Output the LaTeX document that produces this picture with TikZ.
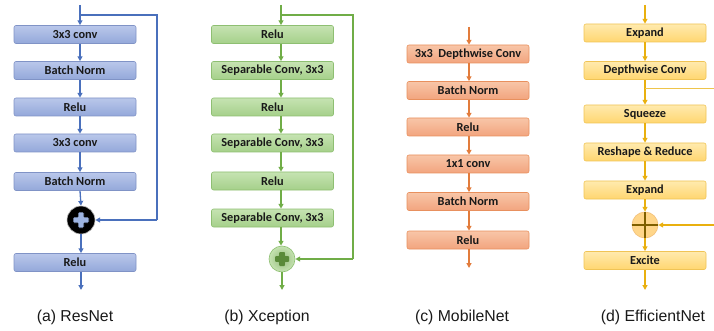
\documentclass[tikz,border=0pt]{standalone}
\usepackage{fontspec}
\setmainfont{Carlito}
\newfontfamily\capfont{Liberation Sans}
\usetikzlibrary{arrows.meta}
\definecolor{rline}{HTML}{4A70BC}
\definecolor{rtop}{HTML}{B9C7EA}
\definecolor{rbot}{HTML}{94A8DA}
\definecolor{rdraw}{HTML}{8093C6}
\definecolor{gline}{HTML}{70AD47}
\definecolor{gtop}{HTML}{C6E3B2}
\definecolor{gbot}{HTML}{A5D08A}
\definecolor{gdraw}{HTML}{8EBF72}
\definecolor{oline}{HTML}{E27C3C}
\definecolor{otop}{HTML}{F8C6A8}
\definecolor{obot}{HTML}{F2A47E}
\definecolor{odraw}{HTML}{E8905E}
\definecolor{yline}{HTML}{E9B00F}
\definecolor{ytop}{HTML}{FFEAAE}
\definecolor{ybot}{HTML}{FFD670}
\definecolor{ydraw}{HTML}{F0C456}
\definecolor{plusblue}{HTML}{9DB4E2}
\definecolor{crossbrown}{HTML}{7F5F00}
\definecolor{efill}{HTML}{FFD68A}
\definecolor{edraw}{HTML}{F2C07A}
\tikzset{
  blk/.style={rectangle, rounded corners=2pt, minimum width=122pt, minimum height=18pt,
    inner sep=0pt, line width=0.6pt, text=black!90,
    font=\bfseries\fontsize{12.3}{13}\selectfont},
  rbox/.style={blk, draw=rdraw, top color=rtop, bottom color=rbot},
  gbox/.style={blk, draw=gdraw, top color=gtop, bottom color=gbot},
  obox/.style={blk, draw=odraw, top color=otop, bottom color=obot},
  ybox/.style={blk, draw=ydraw, top color=ytop, bottom color=ybot},
  arr/.style={line width=1.3pt, -{Triangle[length=4.8pt,width=4.8pt]}},
  ln/.style={line width=1.3pt},
  captext/.style={font=\capfont\fontsize{15.8}{17}\selectfont, text=black!90}
}
\begin{document}
\begin{tikzpicture}[x=1pt,y=-1pt]
\useasboundingbox (0,0) rectangle (714,331);
% ---------------- ResNet
\coordinate (rin) at (80,5);
\coordinate (rsplit) at (80,15);
\coordinate (rc1) at (157,15);
\coordinate (rc2) at (157,220);
\node[rbox] (r1) at (75,34.5) {3x3 conv};
\node[rbox] (r2) at (75,70.5) {Batch Norm};
\node[rbox] (r3) at (75,107) {Relu};
\node[rbox] (r4) at (75,143) {3x3 conv};
\node[rbox] (r5) at (75,181.5) {Batch Norm};
\node[circle, fill=black, draw=black!25, line width=0.6pt, minimum size=28pt, inner sep=0pt] (rplus) at (81,220) {};
\node[rbox] (r6) at (75,262.5) {Relu};
\coordinate (rout) at (81,290);
\begin{scope}[rline]
\draw[arr] (rin) -- (r1.north -| rin);
\draw[arr] (r1.south -| rin) -- (r2.north -| rin);
\draw[arr] (r2.south -| rin) -- (r3.north -| rin);
\draw[arr] (r3.south -| rin) -- (r4.north -| rin);
\draw[arr] (r4.south -| rin) -- (r5.north -| rin);
\draw[arr] (r5.south -| rin) -- (rplus.north);
\draw[arr] (rplus.south) -- (r6.north -| rplus);
\draw[arr] (r6.south -| rplus) -- (rout);
\draw[ln] (rsplit) -- (rc1) -- (rc2);
\draw[arr] (rc2) -- (rplus.east);
\end{scope}
\begin{scope}[shift={(rplus.center)}]
\filldraw[fill=plusblue, draw=black, line width=0.8pt, rounded corners=0.8pt]
 (-3,-8) -- (3,-8) -- (3,-3) -- (8,-3) -- (8,3) -- (3,3) -- (3,8) -- (-3,8) -- (-3,3) -- (-8,3) -- (-8,-3) -- (-3,-3) -- cycle;
\end{scope}
\node[captext] (rcap) at (75,317) {(a) ResNet};
% ---------------- Xception
\coordinate (xin) at (281,5);
\coordinate (xsplit) at (281,15);
\coordinate (xc1) at (353,15);
\coordinate (xc2) at (353,259);
\node[gbox] (x1) at (272.5,34.5) {Relu};
\node[gbox] (x2) at (272.5,70.5) {Separable Conv, 3x3};
\node[gbox] (x3) at (272.5,107) {Relu};
\node[gbox] (x4) at (272.5,143) {Separable Conv, 3x3};
\node[gbox] (x5) at (272.5,181) {Relu};
\node[gbox] (x6) at (272.5,218) {Separable Conv, 3x3};
\node[circle, inner color=gbot!90!black, outer color=gtop, draw=gdraw, line width=0.6pt, minimum size=26pt, inner sep=0pt] (xplus) at (282,259) {};
\coordinate (xout) at (282,290);
\begin{scope}[gline]
\draw[arr] (xin) -- (x1.north -| xin);
\draw[arr] (x1.south -| xin) -- (x2.north -| xin);
\draw[arr] (x2.south -| xin) -- (x3.north -| xin);
\draw[arr] (x3.south -| xin) -- (x4.north -| xin);
\draw[arr] (x4.south -| xin) -- (x5.north -| xin);
\draw[arr] (x5.south -| xin) -- (x6.north -| xin);
\draw[arr] (x6.south -| xin) -- (xplus.north -| xin);
\draw[arr] (xplus.south) -- (xout);
\draw[ln] (xsplit) -- (xc1) -- (xc2);
\draw[arr] (xc2) -- (xplus.east);
\end{scope}
\begin{scope}[shift={(xplus.center)}]
\fill[gline!80!black, rounded corners=0.8pt]
 (-2.8,-7) -- (2.8,-7) -- (2.8,-2.8) -- (7,-2.8) -- (7,2.8) -- (2.8,2.8) -- (2.8,7) -- (-2.8,7) -- (-2.8,2.8) -- (-7,2.8) -- (-7,-2.8) -- (-2.8,-2.8) -- cycle;
\end{scope}
\node[captext] (xcap) at (267,317) {(b) Xception};
% ---------------- MobileNet
\coordinate (min) at (469,27);
\node[obox] (m1) at (468,54) {3x3\ \ Depthwise Conv};
\node[obox] (m2) at (468,90.5) {Batch Norm};
\node[obox] (m3) at (468,127) {Relu};
\node[obox] (m4) at (468,164) {1x1 conv};
\node[obox] (m5) at (468,201.5) {Batch Norm};
\node[obox] (m6) at (468,240) {Relu};
\coordinate (mout) at (469,268);
\begin{scope}[oline]
\draw[arr] (min) -- (m1.north -| min);
\draw[arr] (m1.south -| min) -- (m2.north -| min);
\draw[arr] (m2.south -| min) -- (m3.north -| min);
\draw[arr] (m3.south -| min) -- (m4.north -| min);
\draw[arr] (m4.south -| min) -- (m5.north -| min);
\draw[arr] (m5.south -| min) -- (m6.north -| min);
\draw[arr] (m6.south -| min) -- (mout);
\end{scope}
\node[captext] (mcap) at (462,317) {(c) MobileNet};
% ---------------- EfficientNet
\coordinate (ein) at (645,5);
\node[ybox] (e1) at (645,33) {Expand};
\node[ybox] (e2) at (645,70.5) {Depthwise Conv};
\coordinate (esplit) at (645,89);
\coordinate (eside) at (714,89);
\node[ybox] (e3) at (645,114) {Squeeze};
\node[ybox] (e4) at (645,152) {Reshape \& Reduce};
\node[ybox] (e5) at (645,190) {Expand};
\node[circle, fill=efill, draw=edraw, line width=0.6pt, minimum size=26pt, inner sep=0pt] (eplus) at (645,225) {};
\node[ybox] (e6) at (645,260.5) {Excite};
\coordinate (eout) at (645,290);
\coordinate (eright) at (714,225);
\begin{scope}[yline]
\draw[arr] (ein) -- (e1.north);
\draw[arr] (e1.south) -- (e2.north);
\draw[arr] (e2.south) -- (e3.north);
\draw[arr] (e3.south) -- (e4.north);
\draw[arr] (e4.south) -- (e5.north);
\draw[arr] (e5.south) -- (eplus.north);
\draw[arr] (eplus.south) -- (e6.north);
\draw[arr] (e6.south) -- (eout);
\draw[line width=1pt, yline!75!white] (esplit) -- (eside);
\draw[arr] (eright) -- (eplus.east);
\end{scope}
\draw[crossbrown, line width=2.6pt] (eplus.north) -- (eplus.south);
\draw[crossbrown, line width=2.6pt] (eplus.west) -- (eplus.east);
\node[captext] (ecap) at (653,317) {(d) EfficientNet};
\end{tikzpicture}
\end{document}
